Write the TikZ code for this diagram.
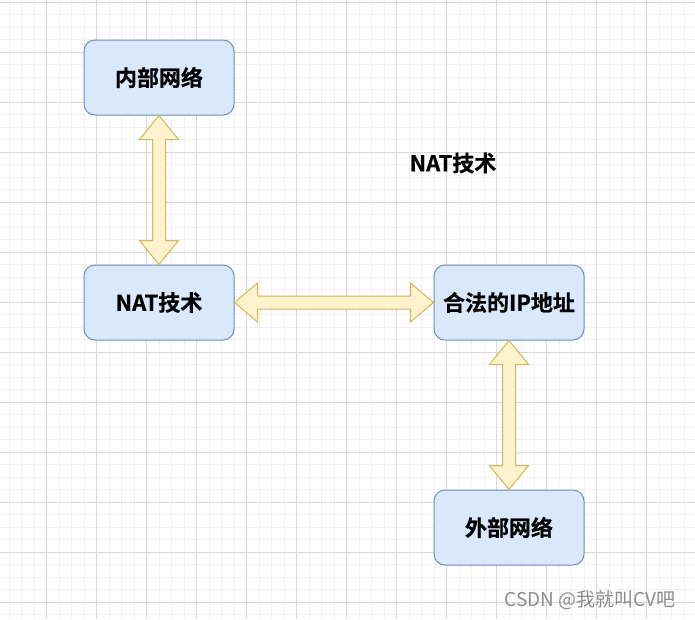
\documentclass[tikz,border=0pt]{standalone}
\usepackage{fontspec}
\newfontfamily\cjkb[FakeBold=0.6]{Noto Sans CJK SC Bold}
\newfontfamily\cjk{Noto Sans CJK SC}
\usetikzlibrary{calc}
\definecolor{boxfill}{HTML}{DAE8FC}
\definecolor{boxline}{HTML}{6C8EBF}
\definecolor{arrfill}{HTML}{FFF2CC}
\definecolor{arrline}{HTML}{D6B656}
\definecolor{gridminor}{HTML}{F0F0F0}
\definecolor{gridmajor}{HTML}{D8D8D8}
\definecolor{wmark}{HTML}{8C8C8C}
\tikzset{
  box/.style={draw=boxline, fill=boxfill, line width=1pt, rounded corners=11pt,
    minimum width=150pt, minimum height=75pt, inner sep=0pt,
    font=\cjkb\fontsize{22pt}{25pt}\selectfont},
  lbl/.style={inner sep=0pt, font=\cjkb\fontsize{22pt}{25pt}\selectfont},
  fatarrow/.style={draw=arrline, fill=arrfill, line width=1pt, line join=miter},
}
\newcommand{\vdblarrow}[2]{%
  \draw[fatarrow] (#1) -- ($(#1)+(19.5,24)$) -- ($(#1)+(6.5,24)$) --
    ($(#2)+(6.5,-24)$) -- ($(#2)+(19.5,-24)$) -- (#2) --
    ($(#2)+(-19.5,-24)$) -- ($(#2)+(-6.5,-24)$) --
    ($(#1)+(-6.5,24)$) -- ($(#1)+(-19.5,24)$) -- cycle;}
\newcommand{\hdblarrow}[2]{%
  \draw[fatarrow] (#1) -- ($(#1)+(23,-19.5)$) -- ($(#1)+(23,-6.5)$) --
    ($(#2)+(-23,-6.5)$) -- ($(#2)+(-23,-19.5)$) -- (#2) --
    ($(#2)+(-23,19.5)$) -- ($(#2)+(-23,6.5)$) --
    ($(#1)+(23,6.5)$) -- ($(#1)+(23,19.5)$) -- cycle;}
\begin{document}
\begin{tikzpicture}[x=1pt, y=-1pt]
\useasboundingbox (0,0) rectangle (695,619);
\fill[white] (0,0) rectangle (695,619);
% grid
\foreach \i in {-3,...,55} {
  \draw[gridminor, line width=0.8pt] ({46.5+12.5*\i},0) -- ({46.5+12.5*\i},619);
  \draw[gridminor, line width=0.8pt] (0,{2+12.5*\i}) -- (695,{2+12.5*\i});
}
\foreach \i in {0,...,13} {
  \draw[gridmajor, line width=0.8pt] ({46.5+50*\i},0) -- ({46.5+50*\i},619);
  \draw[gridmajor, line width=0.8pt] (0,{2+50*\i}) -- (695,{2+50*\i});
}
% nodes
\node[box] (inner) at (159,77.5) {内部网络};
\node[box] (nat) at (159,302.5) {NAT技术};
\node[box] (ip) at (509,302.5) {合法的IP地址};
\node[box] (outer) at (509,527.5) {外部网络};
\node[lbl] (title) at (453,163) {NAT技术};
% arrows
\vdblarrow{inner.south}{nat.north}
\hdblarrow{nat.east}{ip.west}
\vdblarrow{ip.south}{outer.north}
% watermark
\node[inner sep=0pt, text=wmark, font=\cjk\fontsize{19pt}{22pt}\selectfont] (wm) at (590,600) {CSDN @我就叫CV吧};
\end{tikzpicture}
\end{document}
